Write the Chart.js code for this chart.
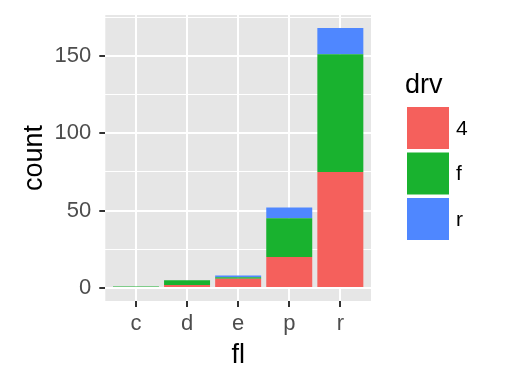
<!DOCTYPE html>
<html><head><meta charset="utf-8">
<script src="https://cdn.jsdelivr.net/npm/chart.js@4"></script>
<style>html,body{margin:0;padding:0;background:#fff}#w{width:518px;height:384px;position:relative}</style>
</head><body><div id="w"><canvas id="c" width="518" height="384"></canvas></div>
<script>
const categories = ['c','d','e','p','r'];
const drvLevels = ['4','f','r'];
const count4 = [0, 2, 6, 20, 75];
const countF = [1, 3, 1, 25, 76];
const countR = [0, 0, 1, 7, 17];
const yTicks = [0, 50, 100, 150];
const yMinor = [25, 75, 125, 175];
const colors = ['#F5605C', '#19B22F', '#4F87FF'];

const series = [count4, countF, countR];
const datasets = series.map((arr, i) => ({
  label: drvLevels[i],
  data: arr.map((v, j) => ({x: j, y: v})),
  backgroundColor: colors[i],
  borderWidth: 0,
  barPercentage: 0.9,
  categoryPercentage: 1.0,
  stack: 's'
}));

const panelBg = {
  id: 'panelBg',
  beforeDraw(chart) {
    const {ctx, chartArea: a} = chart;
    ctx.save();
    ctx.fillStyle = '#E6E6E6';
    ctx.fillRect(a.left, a.top, a.right - a.left, a.bottom - a.top);
    ctx.restore();
  }
};

const legendPlug = {
  id: 'legendPlug',
  afterDraw(chart) {
    const ctx = chart.ctx;
    ctx.save();
    ctx.fillStyle = '#000';
    ctx.font = '27px "Liberation Sans", Arial, sans-serif';
    ctx.textBaseline = 'alphabetic';
    ctx.textAlign = 'left';
    ctx.fillText('drv', 405, 93);
    ctx.font = '21px "Liberation Sans", Arial, sans-serif';
    ctx.textBaseline = 'middle';
    drvLevels.forEach((lab, i) => {
      const y = 107 + i * 45.5;
      ctx.fillStyle = colors[i];
      ctx.fillRect(407, y, 42, 42);
      ctx.fillStyle = '#000';
      ctx.fillText(lab, 456, y + 22);
    });
    ctx.restore();
  }
};

new Chart(document.getElementById('c'), {
  type: 'bar',
  data: { datasets },
  options: {
    responsive: false,
    animation: false,
    devicePixelRatio: 1,
    layout: { padding: { top: 15, right: 147, left: 0, bottom: 0 } },
    plugins: { legend: { display: false }, tooltip: { enabled: false } },
    scales: {
      x: {
        type: 'linear', stacked: true, min: -0.6, max: 4.6, offset: false,
        afterBuildTicks(s) { s.ticks = categories.map((c, i) => ({value: i})); },
        afterFit(s) { s.height = 83; s.paddingLeft = 0; s.paddingRight = 0; },
        ticks: {
          callback: (v) => categories[v] ?? '',
          color: '#4D4D4D', font: { size: 22, family: '"Liberation Sans", Arial, sans-serif' },
          padding: 4, maxRotation: 0, autoSkip: false
        },
        grid: { offset: false, color: '#FFFFFF', lineWidth: 2, tickColor: '#333333', tickLength: 6, tickWidth: 2, drawOnChartArea: true },
        border: { display: false },
        title: { display: true, text: 'fl', color: '#000', font: { size: 27, family: '"Liberation Sans", Arial, sans-serif' }, padding: { top: 0, bottom: 12 } }
      },
      y: {
        type: 'linear', stacked: true, min: -8.4, max: 176.4,
        afterBuildTicks(s) { s.ticks = yTicks.concat(yMinor).sort((a,b)=>a-b).map(v => ({value: v})); },
        afterFit(s) { s.width = 105.3; s.paddingTop = 0; s.paddingBottom = 0; },
        ticks: {
          callback: (v) => yTicks.includes(v) ? String(v) : '',
          color: '#4D4D4D', font: { size: 22, family: '"Liberation Sans", Arial, sans-serif' },
          padding: 8, autoSkip: false
        },
        grid: {
          offset: false,
          color: '#FFFFFF',
          lineWidth: (c) => yTicks.includes(c.tick && c.tick.value) ? 2 : 1,
          tickColor: (c) => yTicks.includes(c.tick && c.tick.value) ? '#333333' : 'rgba(0,0,0,0)',
          tickLength: 6, tickWidth: 2
        },
        border: { display: false },
        title: { display: true, text: 'count', color: '#000', font: { size: 27, family: '"Liberation Sans", Arial, sans-serif' }, padding: { top: 18, bottom: 0 } }
      }
    }
  },
  plugins: [panelBg, legendPlug]
});
</script></body></html>
